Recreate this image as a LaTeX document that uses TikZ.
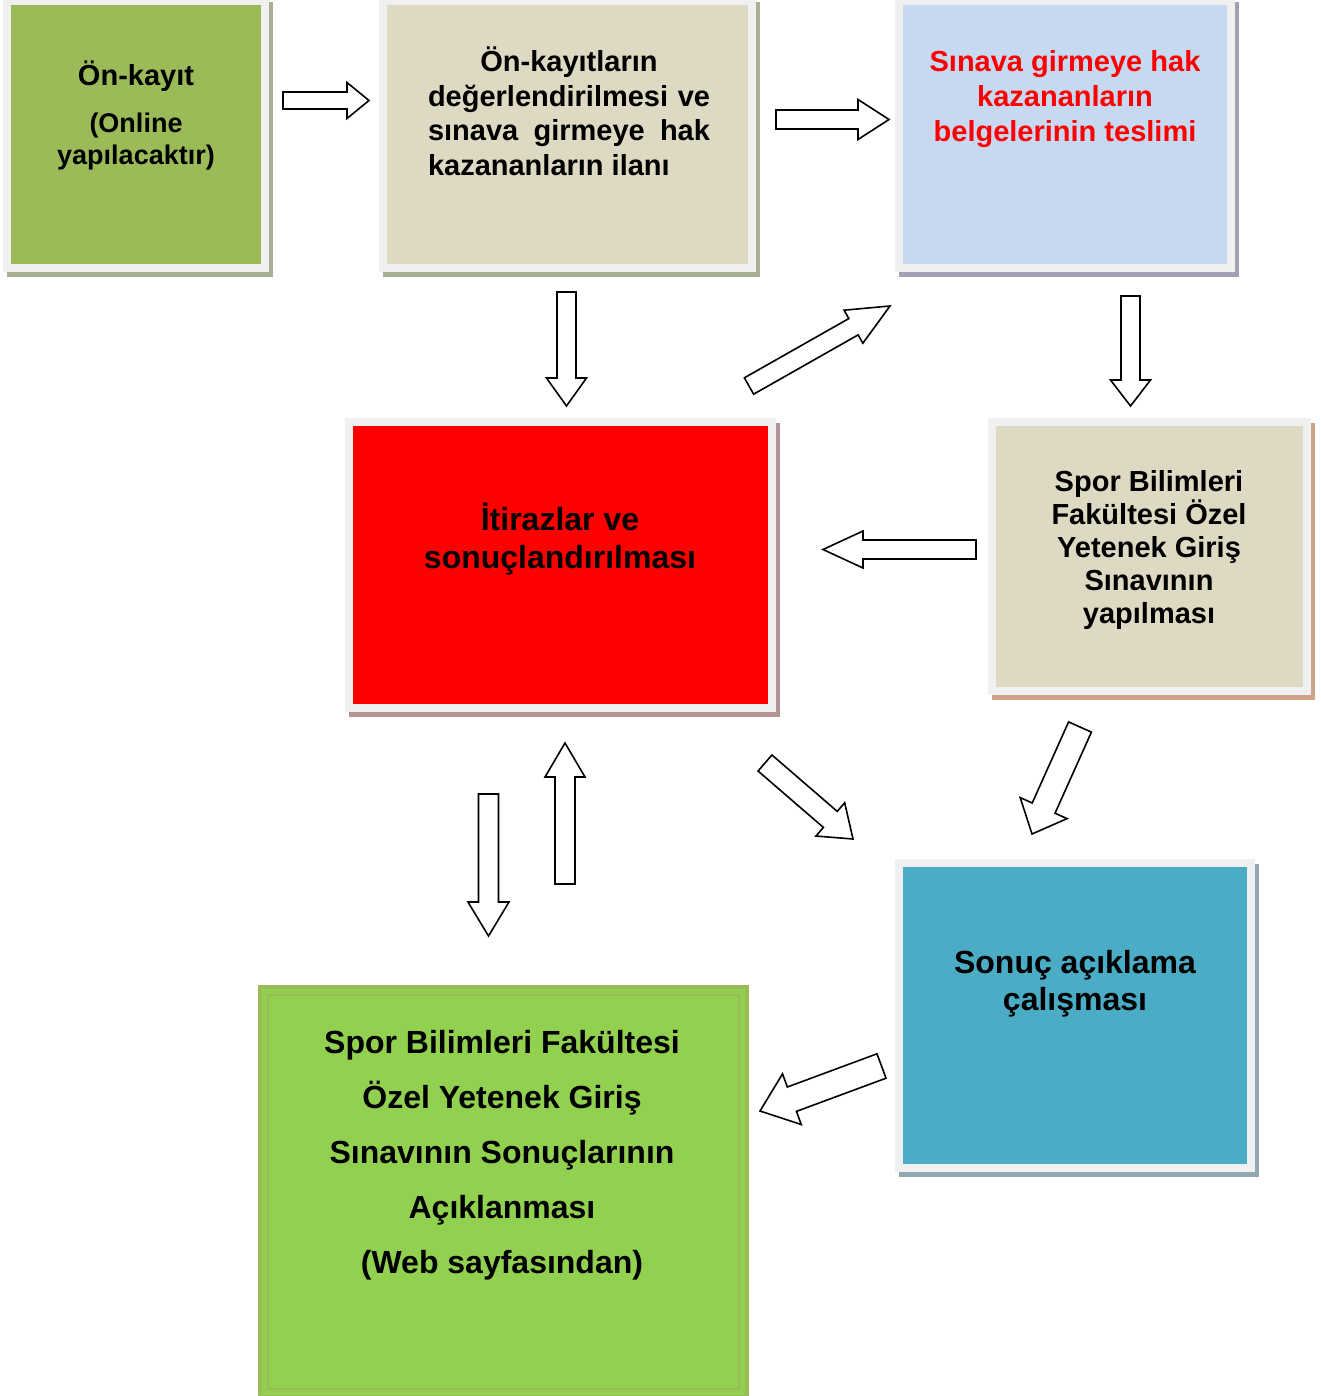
\documentclass[tikz,border=0pt]{standalone}
\usepackage{fontspec}
\setmainfont{Liberation Sans}
\usetikzlibrary{calc,shadows}

\definecolor{framegray}{HTML}{F0F0F0}
\definecolor{greenfill}{HTML}{9BBB59}
\definecolor{tanfill}{HTML}{DDD9C3}
\definecolor{bluefill}{HTML}{C6D9F1}
\definecolor{tealfill}{HTML}{4BACC6}
\definecolor{limefill}{HTML}{92D050}
\definecolor{olivegray}{HTML}{A7AF95}
\definecolor{purplegray}{HTML}{A49FB4}
\definecolor{rosegray}{HTML}{B49393}
\definecolor{tanshadow}{HTML}{CFA385}
\definecolor{tealgray}{HTML}{8FA8B1}

\tikzset{
    stage/.style={draw=framegray, line width=8pt, inner sep=0pt,
        general shadow={shadow xshift=4pt, shadow yshift=-5pt, fill=#1, draw=#1, opacity=1}},
    lbl/.style 2 args={font=\bfseries\fontsize{#1}{#2}\selectfont,
        align=center, inner sep=0pt, anchor=base},
    barrow/.style={draw=black, fill=white, line width=1.6pt, line join=miter}
}

% block arrow: tail, tip, half shaft, half head, head length
\newcommand{\blockarrow}[5]{%
    \coordinate (neck) at ($(#2)!#5pt!(#1)$);
    \draw[barrow] ($(#1)!#3pt!90:(#2)$) -- ($(neck)!#3pt!-90:(#1)$) -- ($(neck)!#4pt!-90:(#1)$)
        -- (#2) -- ($(neck)!#4pt!90:(#1)$) -- ($(neck)!#3pt!90:(#1)$) -- ($(#1)!#3pt!-90:(#2)$) -- cycle;
}

\begin{document}
\begin{tikzpicture}[x=1pt,y=-1pt]
    \path[use as bounding box, fill=white] (0,0) rectangle (1321,1396);

    % boxes
    \node[stage=olivegray, fill=greenfill, minimum width=258pt, minimum height=267pt] (onkayit) at (136,134.5) {};
    \node[stage=olivegray, fill=tanfill, minimum width=369pt, minimum height=267pt] (ilan) at (567.5,134.5) {};
    \node[stage=purplegray, fill=bluefill, minimum width=332pt, minimum height=267pt] (belge) at (1065,134.5) {};
    \node[stage=rosegray, fill=red, minimum width=423pt, minimum height=286pt] (itiraz) at (560.5,565) {};
    \node[stage=tanshadow, fill=tanfill, minimum width=315pt, minimum height=269pt] (sinav) at (1149.5,556.5) {};
    \node[stage=tealgray, fill=tealfill, minimum width=352pt, minimum height=305pt] (calisma) at (1075,1015.5) {};
    \node[fill=limefill, draw=greenfill, line width=4pt, inner sep=0pt,
        minimum width=487pt, minimum height=410pt] (sonuc) at (503.5,1192) {};
    \draw[greenfill, line width=1.5pt] ([shift={(10,10)}]sonuc.north west) rectangle ([shift={(-10,-10)}]sonuc.south east);

    % texts (base = last line)
    \node[lbl={29}{35}] (onkayit-t) at (136,86) {Ön-kayıt};
    \node[lbl={27}{32}] (onkayit-s) at (136,165) {(Online\\yapılacaktır)};
    \node[lbl={29}{34.5}, text width=282pt, align=justify] (ilan-t) at (569,72)
        {\hyphenpenalty=10000 \hfill Ön-kayıtların\hfill\null\\ değerlendirilmesi ve sınava girmeye hak kazananların ilanı};
    \node[lbl={29}{35}, text=red] (belge-t) at (1065,142) {Sınava girmeye hak\\kazananların\\belgelerinin teslimi};
    \node[lbl={32}{38}] (itiraz-t) at (560,568) {İtirazlar ve\\sonuçlandırılması};
    \node[lbl={29}{33}] (sinav-t) at (1149,623) {Spor Bilimleri\\Fakültesi Özel\\Yetenek Giriş\\Sınavının\\yapılması};
    \node[lbl={32}{37}] (calisma-t) at (1075,1010) {Sonuç açıklama\\çalışması};
    \node[lbl={32}{55}] (sonuc-t) at (502,1273) {Spor Bilimleri Fakültesi\\Özel Yetenek Giriş\\Sınavının Sonuçlarının\\Açıklanması\\(Web sayfasından)};

    % arrow ends
    \coordinate (a1s) at (283,100.5);   \coordinate (a1e) at (369,100.5);
    \coordinate (a2s) at (776,119.5);   \coordinate (a2e) at (889,119.5);
    \coordinate (a3s) at (566.5,292);   \coordinate (a3e) at (566.5,406);
    \coordinate (a4s) at (749,386);     \coordinate (a4e) at (890,306);
    \coordinate (a5s) at (1130.5,296);  \coordinate (a5e) at (1130.5,406);
    \coordinate (a6s) at (976,549.5);   \coordinate (a6e) at (823,549.5);
    \coordinate (a7s) at (488.5,794);   \coordinate (a7e) at (488.5,936);
    \coordinate (a8s) at (565,884);     \coordinate (a8e) at (565,743);
    \coordinate (a9s) at (765,763);     \coordinate (a9e) at (853,839);
    \coordinate (a10s) at (1080,727);   \coordinate (a10e) at (1032,834);
    \coordinate (a11s) at (881.5,1066); \coordinate (a11e) at (760,1111);

    \foreach \s/\e/\w/\h/\l in {a1s/a1e/8.5/18/22, a2s/a2e/9.5/20/31, a3s/a3e/9.5/20/28,
        a4s/a4e/9.4/19/42, a5s/a5e/9.5/20/26, a6s/a6e/9.5/18.5/40, a7s/a7e/10/20.5/34,
        a8s/a8e/10/20/34, a9s/a9e/10.6/22/30, a10s/a10e/12.5/25.7/28.4, a11s/a11e/13/27/34} {
        \blockarrow{\s}{\e}{\w}{\h}{\l}
    }
\end{tikzpicture}
\end{document}
